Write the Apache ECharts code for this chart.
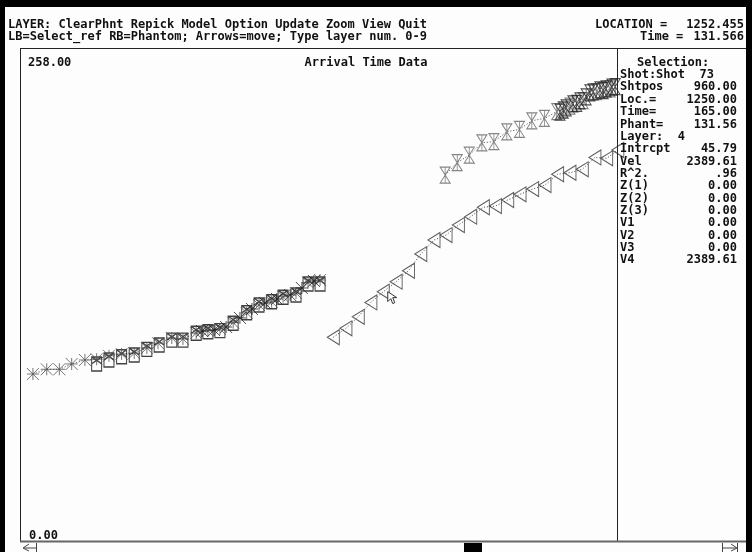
<!DOCTYPE html>
<html><head><meta charset="utf-8">
<script src="https://cdn.jsdelivr.net/npm/echarts@6/dist/echarts.min.js"></script>
<style>html,body{margin:0;padding:0;background:#fdfdfd;}#c{width:752px;height:552px;}</style>
</head><body><div id="c"></div>
<script>
// ---- axis ranges ----
const xMin = 0, xMax = 2040;
const yMin = 0, yMax = 258;
const yTickLabels = ['258.00', '0.00'];

// ---- left segment: picks (asterisks) ----
const pickX = [44,91,134,176,221,261,303,346,389,432,470,517,555,600,640,681,726,772,814,857,896,940,981,1022];
const pickY = [88.1,90.6,90.6,93.4,95.5,95.9,97.7,98.7,99.1,101.8,104.4,107.1,106.6,109.7,110.9,111.9,115.2,120.3,124.5,126.2,128.9,130.8,136.3,137.7];
const denseX = [620,661,702,749,790,834,875,920,960,1001];
const denseY = [110.8,111.3,112.9,117.7,122.4,125.6,127.7,129.8,133.5,137.2];
// ---- left segment: reference boxes ----
const boxX = [261,303,346,389,432,474,517,555,600,640,681,726,772,814,857,896,940,981,1022];
const boxY = [93.4,95.5,97.2,98.1,101.1,103.4,106.0,106.0,109.6,110.4,111.0,114.9,120.4,124.5,126.2,128.6,129.8,135.6,135.6];
// ---- phantom (triangles) ----
const triX = [1067,1110,1152,1195,1237,1281,1323,1365,1410,1451,1493,1535,1578,1619,1661,1703,1746,1788,1831,1873,1915,1958,1998,2036];
const triY = [107.5,112.2,118.3,125.9,131.5,136.8,142.6,151.4,158.8,161.4,166.7,171.1,176.1,176.7,179.9,182.9,185.7,187.8,193.5,194.3,196.1,202.4,201.9,206.3];
// ---- upper right picks ----
const upX = [1448,1489,1530,1573,1614,1658,1701,1743,1786,1828,1873,1918,1964,2010];
const upY = [193.1,199.6,203.6,210.1,210.7,215.9,217.2,221.7,223.0,226.5,229.5,232.3,237.1,238.5];
const upDenseX = [1839,1850,1860,1883,1896,1907,1928,1941,1952,1975,1986,1996,2016,2027];
const upDenseY = [226.3,227.4,228.5,230.6,230.9,232.2,234.3,236.4,236.9,238.0,237.6,238.5,239.5,239.7];

// ---- texts ----
const menuLine1 = 'LAYER: ClearPhnt Repick Model Option Update Zoom View Quit';
const menuLine2 = 'LB=Select_ref RB=Phantom; Arrows=move; Type layer num. 0-9';
const locLabel = 'LOCATION =', locValue = 1252.455;
const timeLabel = 'Time =', timeValue = 131.566;
const chartTitle = 'Arrival Time Data';
const selTitle = 'Selection:';
const selLabels = ['Shot:Shot  73','Shtpos','Loc.=','Time=','Phant=','Layer:  4','Intrcpt','Vel','R^2.','Z(1)','Z(2)','Z(3)','V1','V2','V3','V4'];
const selValues = ['','960.00','1250.00','165.00','131.56','','45.79','2389.61','.96','0.00','0.00','0.00','0.00','0.00','0.00','2389.61'];

const zip = (a, b) => a.map((v, i) => [v, b[i]]);
const FONT = '"DejaVu Sans Mono", "Liberation Mono", monospace';

const symAst = 'path://M0,0L12,12M12,0L0,12M0,6L12,6M6,0L6,12';
const symBox = 'path://M0,0L10,0L10,14L0,14ZM0,0L10,7M10,0L0,7';
const symTri = 'path://M0,7L12,0L12,14Z';
const symHour = 'path://M0,0L10,0L0,16L10,16ZM5,0L5,16';

const chart = echarts.init(document.getElementById('c'), null, {renderer: 'canvas'});

const option = {
  animation: false,
  backgroundColor: '#fdfdfd',
  grid: {left: 20, right: 133, top: 52, bottom: 11},
  xAxis: {type: 'value', min: xMin, max: xMax, show: false},
  yAxis: {type: 'value', min: yMin, max: yMax, show: false},
  series: [
    {type: 'line', data: zip(pickX, pickY), symbol: 'none', lineStyle: {color: '#444', width: 1, type: [1, 2]}, z: 1},
    {type: 'line', data: zip(triX, triY), symbol: 'none', lineStyle: {color: '#444', width: 1, type: [1, 2]}, z: 1},
    {type: 'line', data: zip(upX, upY), symbol: 'none', lineStyle: {color: '#444', width: 1, type: [1, 2]}, z: 1},
    {type: 'scatter', data: zip(boxX, boxY), symbol: symBox, symbolSize: [10, 14],
      itemStyle: {color: 'rgba(0,0,0,0)', borderColor: '#111', borderWidth: 1.2}, z: 2},
    {type: 'scatter', data: zip(pickX, pickY), symbol: symAst, symbolSize: [12, 12],
      itemStyle: {color: 'rgba(0,0,0,0)', borderColor: '#555', borderWidth: 1}, z: 3},
    {type: 'scatter', data: zip(denseX, denseY), symbol: symAst, symbolSize: [12, 12],
      itemStyle: {color: 'rgba(0,0,0,0)', borderColor: '#222', borderWidth: 1}, z: 3},
    {type: 'scatter', data: zip(triX, triY), symbol: symTri, symbolSize: [12, 15],
      itemStyle: {color: 'rgba(0,0,0,0)', borderColor: '#333', borderWidth: 1}, z: 3},
    {type: 'scatter', data: zip(upX, upY), symbol: symHour, symbolSize: [10, 16],
      itemStyle: {color: 'rgba(0,0,0,0)', borderColor: '#666', borderWidth: 1}, z: 3},
    {type: 'scatter', data: zip(upDenseX, upDenseY), symbol: symHour, symbolSize: [10, 16],
      itemStyle: {color: 'rgba(0,0,0,0)', borderColor: '#222', borderWidth: 1}, z: 3}
  ]
};
chart.setOption(option);

const txt = (x, y, s, extra) => Object.assign({type: 'text', x: x, y: y, silent: true, z: 20,
  style: Object.assign({text: s, font: 'bold 12px ' + FONT, fill: '#111', textVerticalAlign: 'middle'}, extra || {})});
const rect = (x, y, w, h, fill) => ({type: 'rect', silent: true, z: 10, shape: {x: x, y: y, width: w, height: h}, style: {fill: fill}});
const line = (x1, y1, x2, y2, stroke, w) => ({type: 'line', silent: true, z: 11, shape: {x1: x1, y1: y1, x2: x2, y2: y2}, style: {stroke: stroke, lineWidth: w || 1}});

const cur = chart.convertToPixel({gridIndex: 0}, [locValue, timeValue]);
const g = [];
// outer black frame
g.push(rect(0, 0, 752, 7, '#000'));
g.push(rect(0, 0, 5, 552, '#000'));
g.push(rect(746, 0, 6, 552, '#000'));
// header texts
g.push(txt(8, 25, menuLine1));
g.push(txt(8, 37, menuLine2));
g.push(txt(595, 25, locLabel));
g.push(txt(744, 25, locValue.toFixed(3), {textAlign: 'right'}));
g.push(txt(640, 37, timeLabel));
g.push(txt(744, 37, timeValue.toFixed(3), {textAlign: 'right'}));
// plot box
g.push(line(20, 48.5, 746, 48.5, '#222', 1));
g.push(line(20.5, 48, 20.5, 542, '#222', 1));
g.push(line(617.5, 48, 617.5, 542, '#222', 1));
g.push(line(20, 541.5, 746, 541.5, '#666', 2));
// labels in plot
g.push(txt(28, 63, yTickLabels[0]));
g.push(txt(29, 536, yTickLabels[1]));
g.push(txt(366, 63, chartTitle, {textAlign: 'center'}));
// selection panel
g.push(txt(637, 63, selTitle));
selLabels.forEach((s, i) => {
  const y = 75 + i * 12.35;
  g.push(txt(620, y, s));
  if (selValues[i]) g.push(txt(737, y, selValues[i], {textAlign: 'right'}));
});
// scroll bar
g.push(line(36.5, 543, 36.5, 552, '#444', 1));
g.push({type: 'polyline', silent: true, z: 11, shape: {points: [[29, 544], [23, 548], [29, 551]]}, style: {stroke: '#444', fill: null, lineWidth: 1}});
g.push(line(24, 548, 36, 548, '#444', 1));
g.push(line(722.5, 543, 722.5, 552, '#444', 1));
g.push({type: 'polyline', silent: true, z: 11, shape: {points: [[731, 544], [737, 548], [731, 551]]}, style: {stroke: '#444', fill: null, lineWidth: 1}});
g.push(line(723, 548, 736, 548, '#444', 1));
g.push(line(737.5, 543, 737.5, 552, '#444', 1));
g.push(rect(464, 543, 18, 9, '#000'));
// mouse cursor at the current location/time
g.push({type: 'polygon', silent: true, z: 30, x: cur[0], y: cur[1],
  shape: {points: [[0, 0], [0, 10], [3, 7], [5, 12], [7, 11], [5, 6], [9, 6]]},
  style: {fill: '#fff', stroke: '#333', lineWidth: 1}});

chart.setOption({graphic: g});
</script></body></html>
